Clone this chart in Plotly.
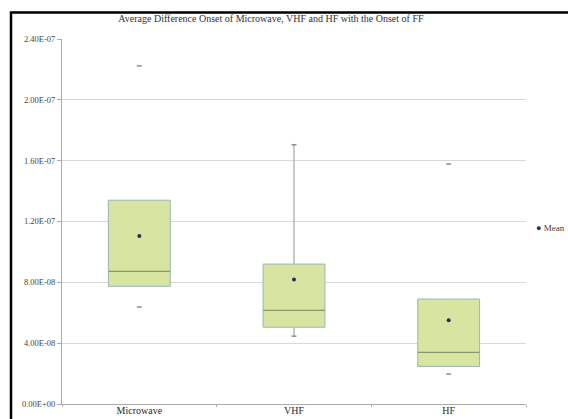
import plotly.graph_objects as go

# Onset differences (seconds) summarised per band
categories = ["Microwave", "VHF", "HF"]
q1_vals = [7.74e-8, 5.05e-8, 2.47e-8]
median_vals = [8.72e-8, 6.16e-8, 3.39e-8]
q3_vals = [1.340e-7, 9.20e-8, 6.90e-8]
min_vals = [6.38e-8, 4.46e-8, 1.97e-8]
max_vals = [2.223e-7, 1.705e-7, 1.578e-7]
mean_vals = [1.104e-7, 8.18e-8, 5.51e-8]

tick_vals = [0, 4e-8, 8e-8, 1.2e-7, 1.6e-7, 2.0e-7, 2.4e-7]
tick_text = ["0.00E+00", "4.00E-08", "8.00E-08", "1.20E-07", "1.60E-07", "2.00E-07", "2.40E-07"]

SERIF = "Liberation Serif"
BOX_FILL = "rgb(216,229,160)"
BOX_EDGE = "rgb(150,182,184)"
MEDIAN_CLR = "rgb(138,150,108)"

fig = go.Figure()

# interquartile boxes
fig.add_trace(go.Bar(
    x=categories, y=[h - l for h, l in zip(q3_vals, q1_vals)], base=q1_vals,
    width=0.4, marker=dict(color=BOX_FILL, line=dict(color=BOX_EDGE, width=1)),
    showlegend=False, hoverinfo="skip"))

# whisker line (only the VHF range is drawn as a line)
fig.add_trace(go.Scatter(
    x=[categories[1], categories[1]], y=[max_vals[1], q3_vals[1]],
    mode="lines", line=dict(color="rgb(185,185,185)", width=1.5),
    showlegend=False, hoverinfo="skip"))
fig.add_trace(go.Scatter(
    x=[categories[1], categories[1]], y=[q1_vals[1], min_vals[1]],
    mode="lines", line=dict(color="rgb(185,185,185)", width=1.5),
    showlegend=False, hoverinfo="skip"))

# medians
fig.add_trace(go.Scatter(
    x=categories, y=median_vals, mode="markers",
    marker=dict(symbol="line-ew", size=44, line=dict(color=MEDIAN_CLR, width=1.2)),
    showlegend=False, hoverinfo="skip"))

# min / max ends
fig.add_trace(go.Scatter(
    x=categories + categories, y=min_vals + max_vals, mode="markers",
    marker=dict(symbol="line-ew", size=3.5, line=dict(color="rgb(140,140,140)", width=1.5)),
    showlegend=False, hoverinfo="skip"))

# means
fig.add_trace(go.Scatter(
    x=categories, y=mean_vals, mode="markers", name="Mean",
    marker=dict(symbol="circle", size=4, color="rgb(40,44,90)"),
    showlegend=False))

fig.update_layout(
    width=568, height=419,
    margin=dict(l=62, r=42, t=39, b=15),
    paper_bgcolor="white", plot_bgcolor="white",
    font=dict(family=SERIF, size=8, color="rgb(60,60,60)"),
    barmode="overlay",
    title=dict(text="Average Difference Onset of Microwave, VHF and HF with the Onset of FF",
               x=0.477, xanchor="center", y=0.955, yanchor="middle",
               font=dict(family=SERIF, size=10, color="rgb(50,50,50)")),
    xaxis=dict(type="category", categoryorder="array", categoryarray=categories,
               range=[-0.5, 2.5], showgrid=False, showline=True, automargin=False,
               linecolor="rgb(170,170,170)", linewidth=1,
               ticks="outside", tickson="boundaries", ticklen=2,
               tickcolor="rgb(170,170,170)", ticklabelstandoff=-3,
               tickfont=dict(family=SERIF, size=10, color="rgb(40,40,40)")),
    yaxis=dict(range=[0, 2.4e-7], tickvals=tick_vals, ticktext=tick_text,
               automargin=False,
               showgrid=True, gridcolor="rgb(217,217,217)", gridwidth=1,
               showline=True, linecolor="rgb(170,170,170)", linewidth=1,
               ticks="outside", ticklen=4, tickcolor="rgb(170,170,170)",
               zeroline=False,
               tickfont=dict(family=SERIF, size=8.5, color="rgb(70,70,70)")),
    annotations=[dict(
        xref="paper", yref="paper", x=(534 - 62) / 464, y=(404 - 228) / 365,
        xanchor="left", yanchor="middle", showarrow=False,
        text="<span style='color:rgb(40,44,110)'>●</span> Mean",
        font=dict(family=SERIF, size=9, color="rgb(60,60,60)"))],
    shapes=[dict(
        type="rect", xref="paper", yref="paper",
        x0=(11 - 62) / 464, x1=(575 - 62) / 464,
        y0=(404 - 430) / 365, y1=(404 - 12.5) / 365,
        line=dict(color="black", width=2.5), layer="above")],
)

fig.write_html("out.html")
